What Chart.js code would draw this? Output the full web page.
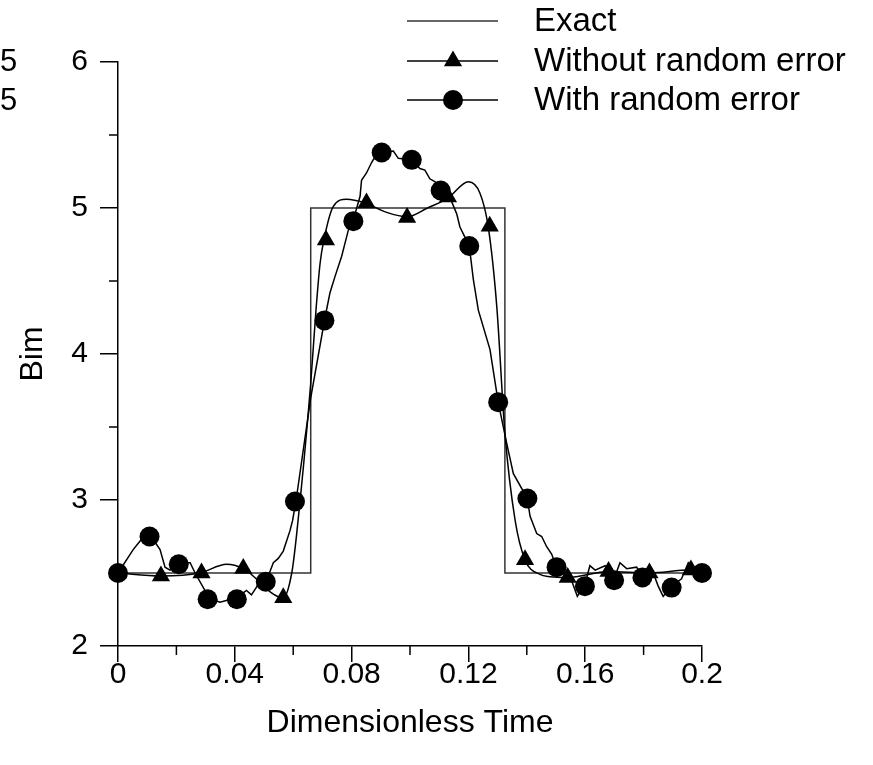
<html>
<head>
  <title>Bim</title>
  <script src="https://cdn.jsdelivr.net/npm/chart.js@4"></script>
  <style>
    html, body {
      margin: 0;
      padding: 0;
      background: white;
      overflow: hidden;
    }
    .graph {
      position: relative;
      width: 873px;
      height: 765px;
    }
  </style>
</head>
<body>
  <div class="graph">
    <canvas id="graph-canvas"></canvas>
  </div>
  <script>
    // exact step profile
    const exactX = [0, 0.066, 0.066, 0.1325, 0.1325, 0.2];
    const exactY = [2.5, 2.5, 5, 5, 2.5, 2.5];

    // without random error: smooth curve + triangle markers
    const smoothX = [0, 0.0147, 0.028, 0.0372, 0.0429, 0.0566, 0.0595, 0.0612, 0.066, 0.0678, 0.0692, 0.0705,
      0.0737, 0.0783, 0.0845, 0.092, 0.099, 0.106, 0.1131, 0.12, 0.124, 0.1268, 0.1297, 0.1325, 0.136,
      0.1394, 0.1445, 0.148, 0.154, 0.168, 0.182, 0.1957, 0.2];
    const smoothY = [2.5, 2.48, 2.5, 2.56, 2.53, 2.33, 2.5, 2.77, 3.8, 4.3, 4.62, 4.78,
      5.01, 5.06, 5.035, 4.97, 4.94, 5.0, 5.07, 5.18, 5.1, 4.87, 4.33, 3.46, 2.86,
      2.59, 2.49, 2.475, 2.47, 2.51, 2.5, 2.52, 2.5];
    const triX = [0, 0.0147, 0.0286, 0.0429, 0.0566, 0.0712, 0.0851, 0.099, 0.113, 0.1273, 0.1394, 0.154, 0.168, 0.182, 0.1962];
    const triY = [2.5, 2.48, 2.5, 2.53, 2.33, 4.78, 5.035, 4.935, 5.075, 4.875, 2.59, 2.47, 2.51, 2.5, 2.52];

    // with random error: noisy curve + circle markers
    const noisyX = [0, 0.0052, 0.008, 0.011, 0.0144, 0.0161, 0.0178, 0.0212, 0.0247, 0.0264, 0.0298, 0.0309,
      0.0349, 0.0406, 0.044, 0.0457, 0.048, 0.0509, 0.0532, 0.0549, 0.0566, 0.0589, 0.0598, 0.061, 0.066,
      0.0709, 0.0726, 0.0743, 0.0766, 0.0789, 0.0806, 0.0829, 0.0834, 0.0851, 0.0868, 0.088, 0.0903, 0.0943,
      0.096, 0.1006, 0.1034, 0.1051, 0.1068, 0.1086, 0.1103, 0.1137, 0.116, 0.1171, 0.1188, 0.1203, 0.1217,
      0.1234, 0.1274, 0.1302, 0.1331, 0.1354, 0.1402, 0.1411, 0.1434, 0.1451, 0.1468, 0.1485, 0.1502, 0.1553,
      0.1573, 0.1599, 0.1616, 0.1634, 0.1668, 0.1699, 0.1719, 0.1742, 0.1776, 0.1793, 0.1833, 0.185, 0.1867,
      0.1896, 0.193, 0.1953, 0.1964, 0.2];
    const noisyY = [2.5, 2.66, 2.73, 2.76, 2.66, 2.54, 2.52, 2.57, 2.57, 2.5, 2.38, 2.33,
      2.3, 2.33, 2.38, 2.35, 2.42, 2.45, 2.57, 2.6, 2.65, 2.79, 2.86, 3.0, 3.7,
      4.25, 4.42, 4.53, 4.67, 4.85, 4.92, 5.08, 5.19, 5.24, 5.31, 5.35, 5.38, 5.39,
      5.34, 5.33, 5.27, 5.26, 5.2, 5.18, 5.12, 5.07, 4.96, 4.87, 4.8, 4.74, 4.51,
      4.3, 4.03, 3.67, 3.39, 3.18, 3.01, 2.89, 2.77, 2.75, 2.68, 2.63, 2.54, 2.45,
      2.34, 2.42, 2.55, 2.52, 2.55, 2.46, 2.57, 2.53, 2.54, 2.49, 2.5, 2.41, 2.34,
      2.41, 2.46, 2.57, 2.54, 2.5];
    const dotX = [0, 0.0108, 0.0208, 0.0307, 0.0407, 0.0506, 0.0606, 0.0707, 0.0806, 0.0903, 0.1006,
      0.1105, 0.1203, 0.1302, 0.1402, 0.1502, 0.1599, 0.1699, 0.1796, 0.1896, 0.2];
    const dotY = [2.5, 2.75, 2.56, 2.32, 2.32, 2.44, 2.99, 4.23, 4.91, 5.38, 5.33,
      5.12, 4.74, 3.67, 3.01, 2.54, 2.41, 2.45, 2.47, 2.4, 2.5];

    const xTicks = [0, 0.04, 0.08, 0.12, 0.16, 0.2];
    const xMinor = [0.02, 0.06, 0.1, 0.14, 0.18];
    const yTicks = [2, 3, 4, 5, 6];
    const yMinor = [2.5, 3.5, 4.5, 5.5];
    const legendLabels = ['Exact', 'Without random error', 'With random error'];
    const cutLabels = ['5', '5'];

    const pts = (xs, ys) => xs.map((x, i) => ({x: x, y: ys[i]}));
    const FONT = '"Liberation Sans", Arial, Helvetica, sans-serif';

    const extras = {
      id: 'extras',
      afterDraw(chart) {
        const ctx = chart.ctx;
        const xs = chart.scales.x, ys = chart.scales.y;
        const a = chart.chartArea;
        ctx.save();
        ctx.strokeStyle = 'black';
        ctx.lineWidth = 1.5;
        ctx.beginPath();
        xMinor.forEach(v => {
          const px = xs.getPixelForValue(v);
          ctx.moveTo(px, a.bottom);
          ctx.lineTo(px, a.bottom + 9);
        });
        yMinor.forEach(v => {
          const py = ys.getPixelForValue(v);
          ctx.moveTo(a.left, py);
          ctx.lineTo(a.left - 9, py);
        });
        ctx.stroke();

        // legend
        const rows = [21, 61, 100];
        ctx.font = '33px ' + FONT;
        ctx.fillStyle = 'black';
        ctx.textBaseline = 'middle';
        ctx.textAlign = 'left';
        rows.forEach((ry, i) => {
          ctx.beginPath();
          ctx.moveTo(407, ry);
          ctx.lineTo(498, ry);
          ctx.lineWidth = 1.5;
          ctx.strokeStyle = i === 0 ? '#333' : 'black';
          ctx.stroke();
          if (i === 1) {
            ctx.beginPath();
            ctx.moveTo(453, ry - 10.5);
            ctx.lineTo(453 + 9.1, ry + 5.25);
            ctx.lineTo(453 - 9.1, ry + 5.25);
            ctx.closePath();
            ctx.fill();
          } else if (i === 2) {
            ctx.beginPath();
            ctx.arc(453, ry, 10, 0, Math.PI * 2);
            ctx.fill();
          }
          ctx.fillText(legendLabels[i], 534, ry + 1);
        });

        // cut-off text on the left edge
        ctx.font = '31px ' + FONT;
        ctx.fillText(cutLabels[0], 0, 62);
        ctx.fillText(cutLabels[1], 0, 101);
        ctx.restore();
      }
    };

    const ctx = document.getElementById('graph-canvas');
    const myChart = new Chart(ctx, {
      type: 'line',
      data: {
        datasets: [
          {label: legendLabels[2], data: pts(dotX, dotY), showLine: false, pointStyle: 'circle',
            pointRadius: 10, backgroundColor: 'black', borderWidth: 0, clip: false, order: 0},
          {label: legendLabels[1], data: pts(triX, triY), showLine: false, pointStyle: 'triangle',
            pointRadius: 10.5, backgroundColor: 'black', borderWidth: 0, clip: false, order: 0},
          {label: 'noisy', data: pts(noisyX, noisyY), borderColor: 'black', borderWidth: 1.5,
            pointRadius: 0, tension: 0, order: 1},
          {label: 'smooth', data: pts(smoothX, smoothY), borderColor: 'black', borderWidth: 1.5,
            pointRadius: 0, cubicInterpolationMode: 'monotone', order: 1},
          {label: legendLabels[0], data: pts(exactX, exactY), borderColor: '#333', borderWidth: 1.5,
            pointRadius: 0, tension: 0, order: 2},
        ],
      },
      options: {
        responsive: true,
        maintainAspectRatio: false,
        animation: false,
        events: [],
        layout: {padding: {left: 0, top: 62, right: 171, bottom: 0}},
        plugins: {legend: {display: false}, tooltip: {enabled: false}},
        scales: {
          x: {
            type: 'linear',
            min: 0,
            max: 0.2,
            afterFit: s => { s.height = 119; },
            afterBuildTicks: s => { s.ticks = xTicks.map(v => ({value: v})); },
            ticks: {
              color: 'black',
              padding: -5,
              maxRotation: 0,
              font: {family: FONT, size: 30},
              callback: v => String(Number(v.toFixed(2))),
            },
            grid: {drawOnChartArea: false, tickLength: 16, color: 'black', lineWidth: 1.5},
            border: {display: true, color: 'black', width: 1.5},
            title: {
              display: true,
              text: 'Dimensionless Time',
              color: 'black',
              font: {family: FONT, size: 32},
              padding: {top: 0, bottom: 23},
            },
          },
          y: {
            type: 'linear',
            min: 2,
            max: 6,
            afterFit: s => { s.width = 118; },
            afterBuildTicks: s => { s.ticks = yTicks.map(v => ({value: v})); },
            ticks: {
              color: 'black',
              padding: 12,
              font: {family: FONT, size: 30},
            },
            grid: {drawOnChartArea: false, tickLength: 18, color: 'black', lineWidth: 1.5},
            border: {display: true, color: 'black', width: 1.5},
            title: {
              display: true,
              text: 'Bim',
              color: 'black',
              font: {family: FONT, size: 32},
              padding: {top: 14, bottom: 0},
            },
          },
        },
      },
      plugins: [extras],
    });
  </script>
</body>
</html>
